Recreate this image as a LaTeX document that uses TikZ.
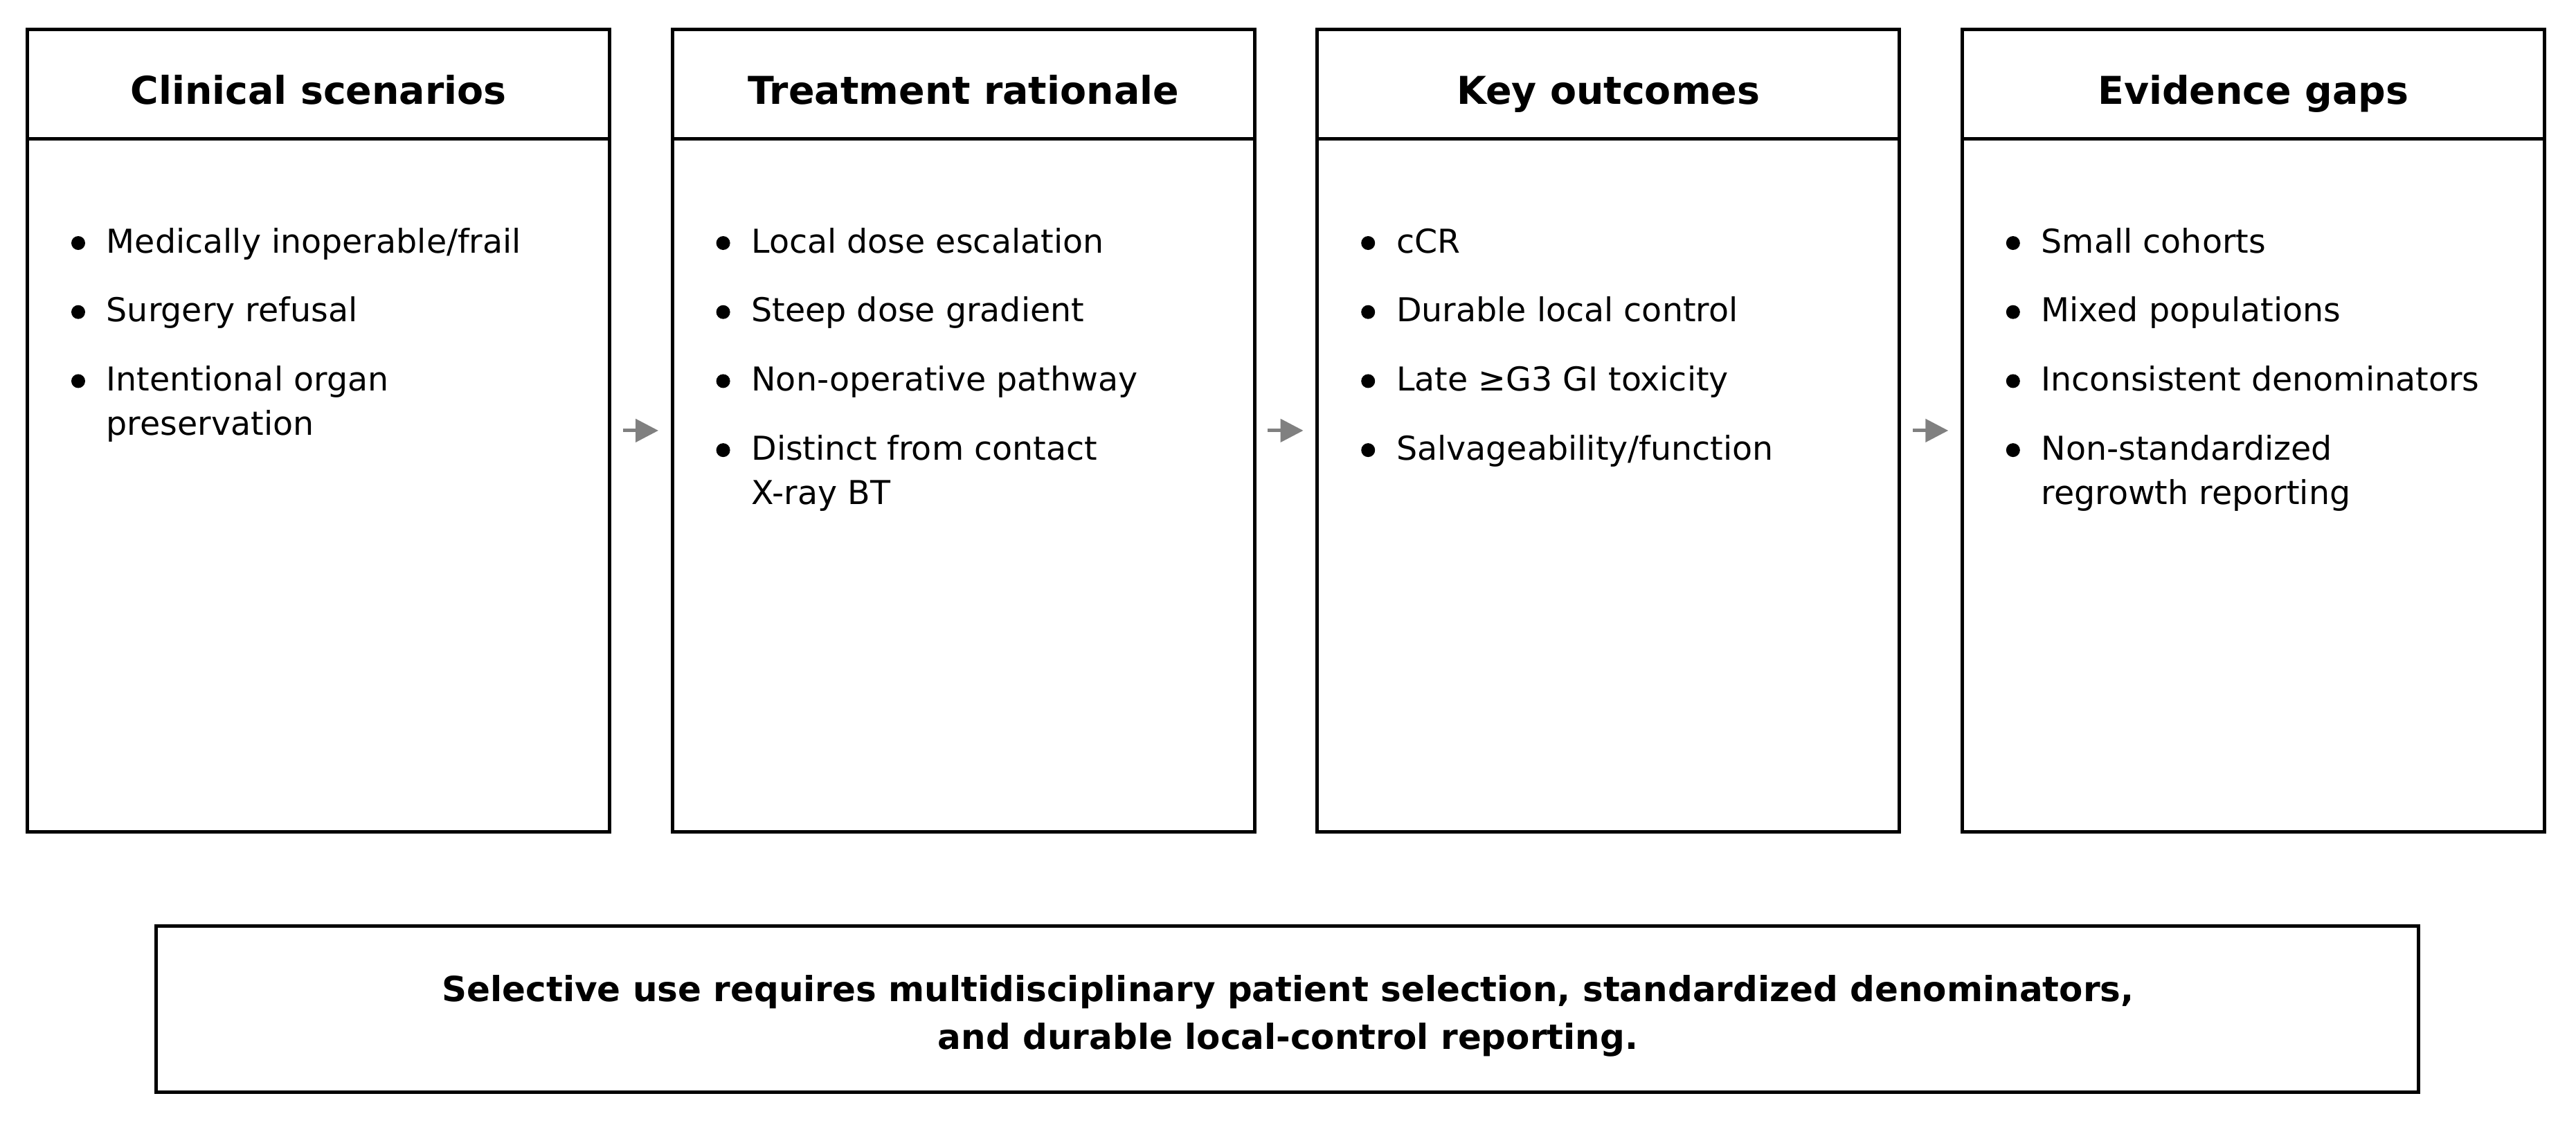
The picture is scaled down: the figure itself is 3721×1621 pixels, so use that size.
\documentclass[tikz,border=0pt]{standalone}
\usepackage{fontspec}
\setmainfont{DejaVu Sans}
\usetikzlibrary{arrows.meta}
\newcommand{\wrapitem}[2]{\begin{tabular}[t]{@{}l@{}}#1\\#2\end{tabular}}

\begin{document}
\begin{tikzpicture}[x=0.24pt,y=-0.24pt,
  panel/.style={draw=black,line width=1.2pt,outer sep=0pt,inner sep=0pt,minimum width=201.9pt,minimum height=278pt},
  notebox/.style={draw=black,line width=1.2pt,outer sep=0pt,inner sep=0pt,minimum width=784.3pt,minimum height=57.7pt},
  headtext/.style={font=\fontsize{13.3}{16}\selectfont\bfseries,anchor=base,inner sep=0pt},
  itemtext/.style={font=\fontsize{11.4}{15.36}\selectfont,anchor=base west,inner sep=0pt},
  notetext/.style={font=\fontsize{12}{16.5}\selectfont\bfseries,align=center,inner sep=0pt},
  flow/.style={draw=gray,line width=1.2pt,-{Triangle[length=7.9pt,width=7.9pt]},shorten <=4.6pt,shorten >=4.8pt}]
\path[use as bounding box,fill=white] (0,0) rectangle (3721,1621);

% Panels
\node[panel] (scen) at (460,621.85) {};
\node[panel] (rat) at (1391.6,621.85) {};
\node[panel] (out) at (2323.2,621.85) {};
\node[panel] (gap) at (3254.8,621.85) {};
\draw[line width=1.2pt] (scen.north west) ++(0,157.3) -- ++(841.4,0);
\draw[line width=1.2pt] (rat.north west) ++(0,157.3) -- ++(841.4,0);
\draw[line width=1.2pt] (out.north west) ++(0,157.3) -- ++(841.4,0);
\draw[line width=1.2pt] (gap.north west) ++(0,157.3) -- ++(841.4,0);

% Text Node
\node[headtext] (scenhead) at (460,150) {Clinical scenarios};
\node[headtext] (rathead) at (1391.6,150) {Treatment rationale};
\node[headtext] (outhead) at (2323.2,150) {Key outcomes};
\node[headtext] (gaphead) at (3254.8,150) {Evidence gaps};

% Clinical scenarios
\fill (113,351) circle (10);
\fill (113,450.7) circle (10);
\fill (113,550.4) circle (10);
\node[itemtext] (scen1) at (153,365) {Medically inoperable/frail};
\node[itemtext] (scen2) at (153,464.7) {Surgery refusal};
\node[itemtext] (scen3) at (153,564.4) {\wrapitem{Intentional organ}{preservation}};

% Treatment rationale
\fill (1044.6,351) circle (10);
\fill (1044.6,450.7) circle (10);
\fill (1044.6,550.4) circle (10);
\fill (1044.6,650.1) circle (10);
\node[itemtext] (rat1) at (1084.6,365) {Local dose escalation};
\node[itemtext] (rat2) at (1084.6,464.7) {Steep dose gradient};
\node[itemtext] (rat3) at (1084.6,564.4) {Non-operative pathway};
\node[itemtext] (rat4) at (1084.6,664.1) {\wrapitem{Distinct from contact}{X-ray BT}};

% Key outcomes
\fill (1976.2,351) circle (10);
\fill (1976.2,450.7) circle (10);
\fill (1976.2,550.4) circle (10);
\fill (1976.2,650.1) circle (10);
\node[itemtext] (out1) at (2016.2,365) {cCR};
\node[itemtext] (out2) at (2016.2,464.7) {Durable local control};
\node[itemtext] (out3) at (2016.2,564.4) {Late ≥G3 GI toxicity};
\node[itemtext] (out4) at (2016.2,664.1) {Salvageability/function};

% Evidence gaps
\fill (2907.8,351) circle (10);
\fill (2907.8,450.7) circle (10);
\fill (2907.8,550.4) circle (10);
\fill (2907.8,650.1) circle (10);
\node[itemtext] (gap1) at (2947.8,365) {Small cohorts};
\node[itemtext] (gap2) at (2947.8,464.7) {Mixed populations};
\node[itemtext] (gap3) at (2947.8,564.4) {Inconsistent denominators};
\node[itemtext] (gap4) at (2947.8,664.1) {\wrapitem{Non-standardized}{regrowth reporting}};

% Connection
\draw[flow] (scen.east) -- (rat.west);
\draw[flow] (rat.east) -- (out.west);
\draw[flow] (out.east) -- (gap.west);

% Bottom note
\node[notebox] (note) at (1859.2,1457.5) {};
\node[notetext] (notetxt) at (1860.5,1467) {Selective use requires multidisciplinary patient selection, standardized denominators,\\and durable local-control reporting.};

\end{tikzpicture}
\end{document}
